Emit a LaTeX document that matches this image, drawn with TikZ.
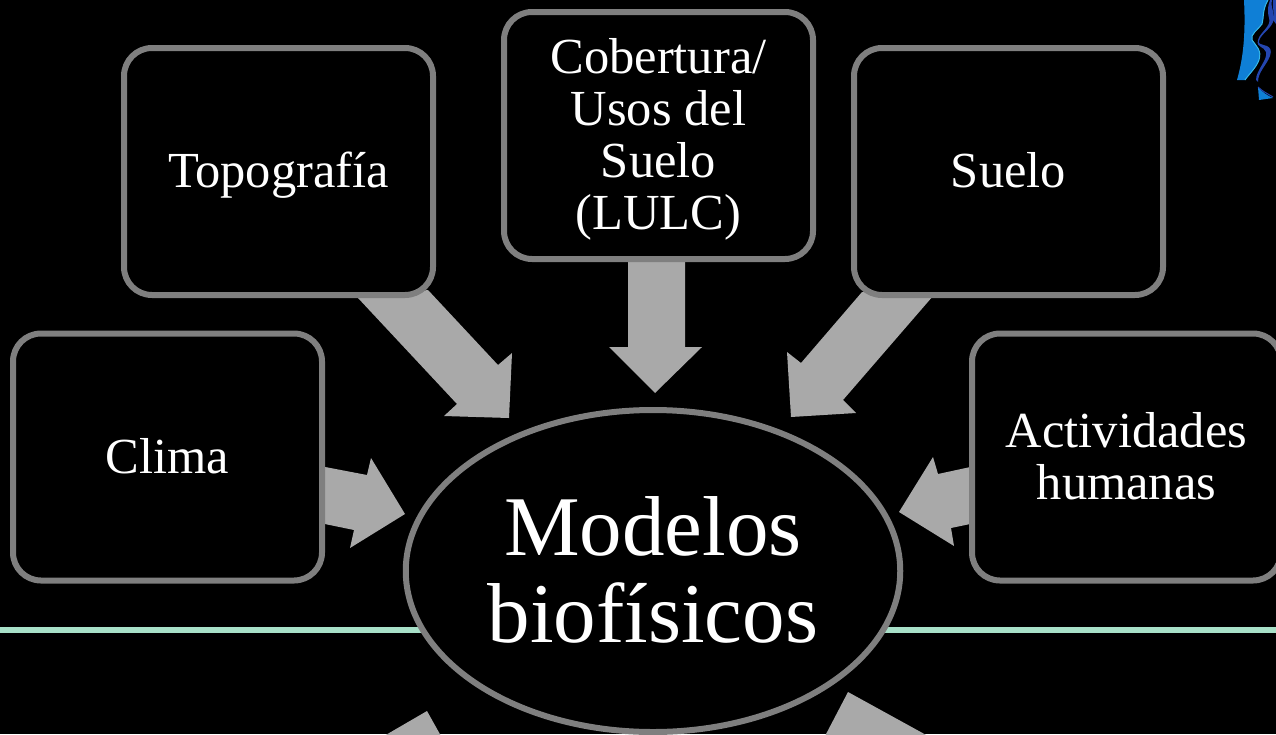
\documentclass[tikz,border=0pt]{standalone}
\usepackage{fontspec}
\setmainfont{Liberation Serif}
\definecolor{edgegray}{HTML}{7F7F7F}
\definecolor{arrowgray}{HTML}{A9A9A9}
\definecolor{linegreen}{HTML}{A8E0C8}
\definecolor{logoblue}{HTML}{0F7FD6}
\definecolor{logocyan}{HTML}{35B8E8}
\definecolor{logodark}{HTML}{2446B0}
\newcommand{\loweredtext}[2]{\vbox{\vskip#1\hbox{\begin{tabular}{@{}c@{}}#2\end{tabular}}}}
\usetikzlibrary{shapes.geometric}
\tikzset{
  x=1pt,y=-1pt,
  boxnode/.style={draw=edgegray,line width=6pt,fill=black,rounded corners=28pt,minimum width=309pt,minimum height=247pt,inner sep=0pt,align=center,text=white,font=\fontsize{50.5}{52}\selectfont},
  centernode/.style={ellipse,draw=edgegray,line width=6pt,fill=black,minimum width=494.5pt,minimum height=322pt,inner sep=0pt,align=center,text=white,font=\fontsize{85}{87}\selectfont},
  blockarrow/.style={fill=arrowgray,draw=none}
}
\begin{document}
\begin{tikzpicture}
\useasboundingbox (0,0) rectangle (1276,734);
\clip (0,0) rectangle (1276,734);
\fill[black] (0,0) rectangle (1276,734);
% green rule
\fill[linegreen] (0,626.5) rectangle (1276,632.5);
% logo
\fill[logoblue] (1244,0) -- (1268,0) .. controls (1262,10) and (1264,18) .. (1262,24) .. controls (1258,30) and (1250,34) .. (1252,40) .. controls (1256,46) and (1262,50) .. (1259,60) .. controls (1256,68) and (1249,74) .. (1245,80) -- (1237,80) .. controls (1242,62) and (1246,40) .. (1244,0) -- cycle;
\draw[logocyan,line width=1pt] (1268,0) .. controls (1262,10) and (1264,18) .. (1262,24) .. controls (1258,30) and (1250,34) .. (1252,40) .. controls (1256,46) and (1262,50) .. (1259,60) .. controls (1256,68) and (1249,74) .. (1245,80);
\fill[logodark] (1272,0) .. controls (1270,8) and (1276,14) .. (1273,22) .. controls (1270,30) and (1258,36) .. (1259,43) .. controls (1262,46) and (1274,44) .. (1270,56) .. controls (1266,66) and (1258,72) .. (1258,82) -- (1256,80) .. controls (1256,70) and (1268,60) .. (1266,52) .. controls (1264,46) and (1256,48) .. (1258,40) .. controls (1260,32) and (1272,26) .. (1269,18) .. controls (1267,10) and (1268,6) .. (1270,0) -- cycle;
\fill[logodark] (1273,0) -- (1276,0) -- (1276,24) -- (1273,20) .. controls (1275,14) and (1272,8) .. (1273,0) -- cycle;
\fill[logoblue] (1258,87) .. controls (1262,92) and (1268,96) .. (1273,98) -- (1259,100) -- cycle;
\draw[logodark,line width=1pt] (1258,87) .. controls (1262,91) and (1268,94) .. (1273,97);
% block arrows
\fill[blockarrow] (358,298) -- (428,290) -- (498,365) -- (512,353) -- (509,418) -- (444,416) -- (457,404) -- cycle;
\fill[blockarrow] (628,258) -- (685,258) -- (685,347) -- (702,347) -- (655,393) -- (609,347) -- (628,347) -- cycle;
\fill[blockarrow] (933,296) -- (862,292) -- (801,363) -- (787,352) -- (791,417) -- (856,413) -- (843,400) -- cycle;
\fill[blockarrow] (320,466) -- (367,475) -- (371,458) -- (405,514) -- (350,548) -- (354,530) -- (320,523) -- cycle;
\fill[blockarrow] (975,466) -- (938,474) -- (933,457) -- (899,512) -- (954,546) -- (951,528) -- (975,523) -- cycle;
\fill[blockarrow] (427,711) -- (441,736) -- (384,736) -- cycle;
\fill[blockarrow] (848,692) -- (825,736) -- (928,736) -- cycle;
% boxes
\node[boxnode] (topo) at (278.5,171.5) {\loweredtext{12pt}{Topografía}};
\node[boxnode] (lulc) at (658.5,135.5) {\loweredtext{11pt}{Cobertura/\\Usos del\\Suelo\\(LULC)}};
\node[boxnode] (suelo) at (1008.5,171.5) {\loweredtext{12pt}{Suelo}};
\node[boxnode] (clima) at (167.5,457) {\loweredtext{12pt}{Clima}};
\node[boxnode] (acti) at (1126.5,457) {\loweredtext{13pt}{Actividades\\humanas}};
\node[centernode] (modelos) at (653,571) {\loweredtext{21pt}{Modelos\\biofísicos}};
\end{tikzpicture}
\end{document}
